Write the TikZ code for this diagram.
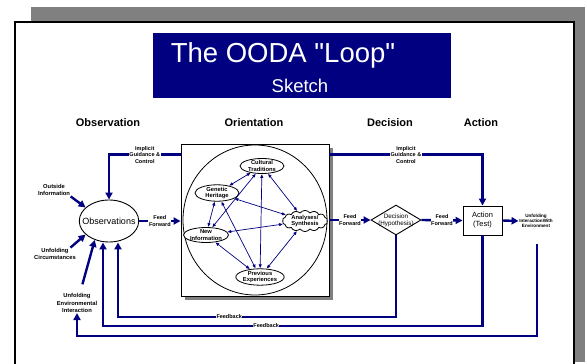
\documentclass[tikz,border=0pt]{standalone}
\usepackage{fontspec}
\setmainfont{Liberation Sans}
\usetikzlibrary{arrows.meta,shapes.geometric,shapes.symbols,shadows}
\definecolor{oodanavy}{RGB}{0,0,128}
\tikzset{
    flow/.style={draw=oodanavy, line width=2.4pt, -{Triangle[length=7pt,width=7pt]}},
    link/.style={draw=oodanavy, line width=0.7pt, {Latex[length=4pt,width=3.4pt]}-{Latex[length=4pt,width=3.4pt]}},
    lab/.style={fill=white, inner sep=0.6pt, align=center, font=\fontsize{5.5}{6.5}\selectfont\bfseries},
    side/.style={inner sep=0.5pt, align=center, font=\fontsize{5.8}{7.2}\selectfont\bfseries},
    head/.style={font=\fontsize{11}{13}\selectfont\bfseries},
    idea/.style={ellipse, draw, line width=0.8pt, fill=white, minimum width=44pt, minimum height=15pt,
        inner sep=0pt, align=center, font=\fontsize{5.8}{6.2}\selectfont\bfseries},
}
\begin{document}
\begin{tikzpicture}[x=1pt, y=-1pt]
        \useasboundingbox (0,0) rectangle (587,364);
        % sheet
        \fill[black!50] (31,7) rectangle (585,362);
        \draw[fill=white, line width=1.5pt] (15,22) rectangle (574,372);

        \fill[oodanavy] (153,33) rectangle (451,98);
        \node[anchor=base, text=white, font=\fontsize{27.5}{30}\selectfont] (title) at (283,62) {The OODA \textquotedbl Loop\textquotedbl};
        \node[anchor=base, text=white, font=\fontsize{18.5}{20}\selectfont] (subtitle) at (300,92) {Sketch};

        \node[head] (hobs) at (108,123) {Observation};
        \node[head] (hori) at (254,123) {Orientation};
        \node[head] (hdec) at (390,123) {Decision};
        \node[head] (hact) at (481,123) {Action};

        % orientation
        \node[draw, fill=white, line width=0.9pt, minimum width=148pt, minimum height=152pt,
            drop shadow={shadow xshift=4pt, shadow yshift=-4pt, fill=black!50, opacity=1}] (orient) at (255,220) {};
        \draw[line width=0.8pt] (orient.center) ellipse [x radius=72, y radius=75];

        \node[idea] (cult) at (262,166) {Cultural\\Traditions};
        \node[idea] (gene) at (217,193) {Genetic\\Heritage};
        \node[idea] (newi) at (206,235) {New\\Information};
        \node[idea] (prev) at (260,277) {Previous\\Experiences};
        \node[cloud, draw, line width=0.8pt, fill=white, cloud puffs=14, cloud puff arc=110, aspect=2.7,
            minimum width=45pt, minimum height=17pt, inner sep=0pt, align=center,
            font=\fontsize{5.8}{6.2}\selectfont\bfseries] (anal) at (305,221) {Analyses/\\Synthesis};

        \foreach \a/\b in {cult/gene, cult/anal, cult/prev, cult/newi, gene/newi,
            gene/anal, gene/prev, newi/anal, newi/prev, prev/anal}
            \draw[link] (\a) -- (\b);

        % observation
        \node[ellipse, draw, line width=0.9pt, minimum width=58pt, minimum height=42pt, inner xsep=-5.5pt, inner ysep=0pt,
            font=\fontsize{9}{10}\selectfont] (obs) at (109,221) {Observations};
        \node[side] (outinfo) at (54,190) {Outside\\Information};
        \node[side] (unfcirc) at (55,254) {Unfolding\\Circumstances};
        \node[side] (envint) at (77,303) {Unfolding\\Environmental\\Interaction};

        % decision, action
        \node[diamond, draw, line width=0.9pt, fill=white, minimum width=50pt, minimum height=30pt, aspect=1.67,
            inner sep=0pt, label={[align=center, font=\fontsize{6.3}{7}\selectfont]center:{Decision\\(Hypothesis)}}] (dec) at (396,220) {};
        \node[draw, line width=0.9pt, minimum width=39pt, minimum height=29pt, align=center,
            font=\fontsize{7.5}{9}\selectfont] (act) at (482.5,220.5) {Action\\(Test)};
        \node[side, font=\fontsize{4.6}{5.2}\selectfont\bfseries] (envact) at (536,221) {Unfolding\\InteractionWith\\Environment};

        \coordinate (envtop) at (537,244);
        \coordinate (fbA) at (118,317);
        \coordinate (fbB) at (103,326);
        \coordinate (fbC) at (77,336);

        \draw[flow] ([yshift=-11pt]orient.north west) -| node[lab, pos=0.25] {Implicit\\Guidance \&\\Control} (obs.north);
        \draw[flow] ([yshift=-11pt]orient.north east) -| node[lab, pos=0.25] {Implicit\\Guidance \&\\Control} (act.north);

        \draw[flow] (obs.east) -- node[lab] {Feed\\Forward} (orient.west |- obs.east);
        \draw[flow] (orient.east) -- node[lab] {Feed\\Forward} (dec.west);
        \draw[flow] (dec.east) -- node[lab] {Feed\\Forward} (act.west);
        \draw[flow] (act.east) -- (envact.west);

        \draw[flow] (outinfo.south east) -- (obs.150);
        \draw[flow] ([xshift=-6pt]unfcirc.north east) -- (obs.210);
        \draw[flow, shorten <=9pt] ([xshift=3pt]envint.north) -- (obs.233);

        % feedback
        \draw[flow] (dec.south) |- node[lab, pos=0.8] {Feedback} (fbA) -- (fbA |- obs.south);
        \draw[flow] (act.south) |- node[lab, pos=0.785] {Feedback} (fbB) -- (fbB |- obs.south);
        \draw[flow] (envtop) |- (fbC) -- (envint.south);
\end{tikzpicture}
\end{document}
